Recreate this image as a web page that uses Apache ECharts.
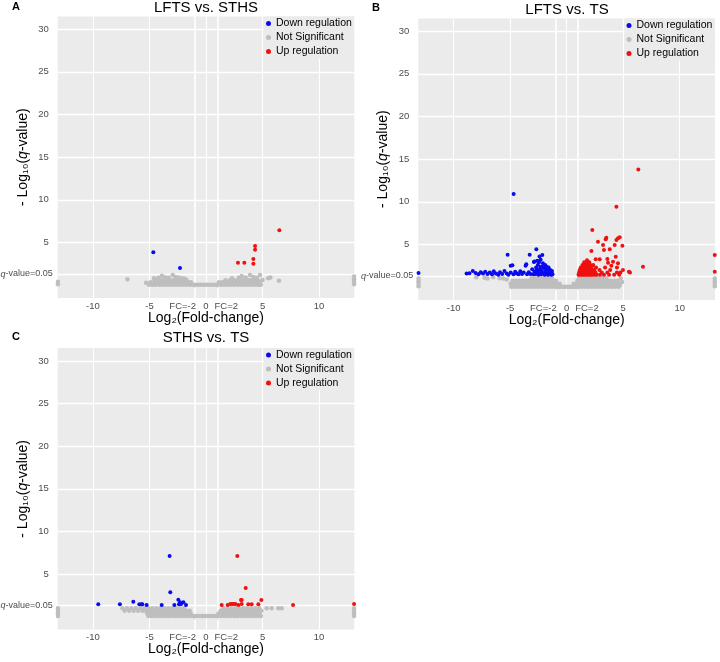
<!DOCTYPE html>
<html><head><meta charset="utf-8">
<script src="https://cdn.jsdelivr.net/npm/echarts@6/dist/echarts.min.js"></script>
<style>html,body{margin:0;padding:0;background:#fff}#c{width:720px;height:662px}</style>
</head><body><div id="c"></div>
<script>
// ---------- text ----------
const panelTitles = ['LFTS vs. STHS', 'LFTS vs. TS', 'STHS vs. TS'];
const panelLetters = ['A', 'B', 'C'];
const legendNames = ['Down regulation', 'Not Significant', 'Up regulation'];
const xBreaks = [-10, -5, -1, 0, 1, 5, 10];
const xTickLabels = ['-10', '-5', 'FC=-2', '0', 'FC=2', '5', '10'];
const yBreaks = [1.3, 5, 10, 15, 20, 25, 30];
const yTickLabels = ['q-value=0.05', '5', '10', '15', '20', '25', '30'];
const xRange = [-13.12, 13.12];
const yRange = [-1.5, 31.5];

// ---------- Panel A : LFTS vs. STHS ----------
const downA = [[-4.66, 3.84], [-2.30, 2.0]];
const upA = [[6.49, 6.42], [4.34, 4.58], [4.34, 4.15], [4.19, 3.06], [4.19, 2.51], [2.83, 2.63], [3.39, 2.63]];
const nsA_rows = [
  [0.05, [-5.05, -4.75, -4.47, -4.15, -3.86, -3.55, -3.27, -2.95, -2.66, -2.35, -2.04, -1.76, -1.45, -1.2, -0.95, -0.7, -0.46, -0.2, 0.05, 0.3, 0.56, 0.8, 1.0, 1.31, 1.6, 1.92, 2.2, 2.5, 2.81, 3.1, 3.42, 3.7, 4.0, 4.31, 4.6, 4.85]],
  [0.33, [-4.9, -4.62, -4.3, -4.02, -3.7, -3.42, -3.1, -2.8, -2.52, -2.2, -1.9, -1.62, -1.33, 1.15, 1.45, 1.76, 2.05, 2.36, 2.66, 2.95, 3.26, 3.55, 3.86, 4.15, 4.45, 4.75]],
  [0.58, [-4.45, -4.1, -3.82, -3.5, -3.2, -2.9, -2.62, -2.3, -2.0, -1.72, 1.72, 2.1, 2.5, 2.8, 3.12, 3.4, 3.72, 4.0, 4.3, 4.6]]
];
const nsA_extra = [[-4.6, 0.8], [-4.2, 0.85], [-3.9, 1.1], [-3.6, 0.9], [-3.3, 0.85], [-2.95, 1.18], [-2.7, 0.95], [-2.4, 0.9], [-2.1, 0.8], [-1.85, 0.75],
  [-5.3, 0.28], [-6.95, 0.68], [2.3, 0.8], [2.9, 0.85], [3.16, 1.07], [3.5, 0.9], [3.9, 1.18], [4.2, 0.95], [4.5, 0.85], [4.78, 1.18],
  [5.0, 0.6], [5.5, 0.8], [5.7, 0.9], [6.46, 0.52], [-13.1, 0.1], [-13.1, 0.4], [13.1, 0.1], [13.1, 0.4], [13.1, 0.7], [13.1, 1.0]];

// ---------- Panel B : LFTS vs. TS ----------
const downB = [[-13.1, 1.65],
  [-8.85, 1.6], [-8.6, 1.62], [-8.3, 1.9], [-8.05, 1.65], [-7.8, 1.5], [-7.6, 1.75], [-7.4, 1.6], [-7.2, 1.8], [-7.0, 1.55], [-6.8, 1.7],
  [-6.6, 1.5], [-6.45, 1.85], [-6.25, 1.6], [-6.05, 1.45], [-5.9, 1.75], [-5.7, 1.55], [-5.5, 1.9], [-5.3, 1.6], [-5.15, 1.45],
  [-4.95, 1.7], [-4.8, 2.55], [-4.95, 2.5], [-4.7, 1.5], [-4.55, 1.8], [-4.4, 1.6], [-4.25, 1.5], [-4.1, 1.85], [-3.95, 1.55], [-3.8, 1.7],
  [-3.63, 2.5], [-3.5, 1.5], [-3.35, 1.75], [-3.2, 1.55], [-5.22, 3.8], [-4.69, 10.9],
  [-3.05, 2.1], [-2.95, 1.5], [-2.9, 2.95], [-2.85, 1.8], [-2.75, 1.55], [-2.7, 2.3], [-2.68, 4.43], [-2.6, 1.7], [-2.55, 2.6], [-2.5, 1.45],
  [-2.45, 2.0], [-2.4, 3.6], [-2.35, 1.65], [-2.3, 2.4], [-2.25, 1.5], [-2.2, 1.9], [-2.15, 3.75], [-2.1, 2.8], [-2.05, 1.6], [-2.0, 2.2],
  [-1.95, 1.45], [-1.9, 1.8], [-1.85, 2.45], [-1.8, 1.55], [-1.75, 2.0], [-1.7, 1.7], [-1.65, 1.45], [-1.6, 2.1], [-1.55, 1.6], [-1.5, 1.85],
  [-1.45, 1.5], [-1.4, 1.7], [-1.35, 1.45], [-1.3, 1.6], [-1.25, 1.5], [-3.27, 3.8], [-3.57, 2.67], [-2.85, 3.0], [-2.6, 3.1], [-2.3, 3.2],
  [-2.45, 2.9], [-2.05, 2.4], [-1.9, 2.6], [-1.6, 2.3], [-1.45, 2.0], [-1.3, 1.9], [-2.65, 2.1], [-2.35, 2.15], [-1.75, 2.35]];
const upB_rows = [
  [1.45, [1.05, 1.2, 1.35, 1.5, 1.65, 1.8, 1.95, 2.1, 2.25, 2.45, 2.65, 2.95, 3.3, 3.75, 4.2, 4.65]],
  [1.72, [1.1, 1.25, 1.4, 1.55, 1.7, 1.85, 2.0, 2.15, 2.35, 2.55, 3.1, 3.6, 4.45]],
  [2.0, [1.15, 1.3, 1.45, 1.6, 1.75, 1.9, 2.05, 2.25, 2.45, 2.9, 3.85]],
  [2.3, [1.25, 1.4, 1.55, 1.7, 1.85, 2.0, 2.2, 2.6, 3.4]],
  [2.6, [1.4, 1.55, 1.7, 1.9, 2.1, 2.35]],
  [2.9, [1.55, 1.75, 2.0]],
  [3.15, [1.8]]
];
const upB_extra = [[6.34, 13.8], [4.4, 9.43], [2.27, 6.69], [2.77, 5.32], [3.51, 5.8], [3.45, 5.6], [3.22, 4.93], [4.25, 4.93], [4.4, 5.52],
  [4.54, 5.72], [4.69, 5.84], [4.93, 4.85], [3.3, 4.35], [2.19, 4.23], [3.81, 4.45], [2.92, 3.26], [4.34, 3.56], [2.57, 3.26], [3.66, 2.86],
  [4.1, 2.98], [4.54, 2.79], [6.75, 2.39], [5.51, 1.81], [5.6, 1.7], [4.98, 2.0], [13.1, 3.76], [13.1, 1.81], [3.6, 3.3], [3.95, 2.5],
  [4.45, 2.3], [4.75, 1.7]];
const nsB_rows = [
  [0.05, [-4.9, -4.6, -4.3, -4.0, -3.7, -3.4, -3.1, -2.8, -2.5, -2.2, -1.9, -1.6, -1.3, -1.0, -0.8, -0.6, -0.4, -0.2, 0.0, 0.2, 0.4, 0.6, 0.8, 1.0, 1.3, 1.6, 1.9, 2.2, 2.5, 2.8, 3.1, 3.4, 3.7, 4.0, 4.3, 4.6]],
  [0.4, [-4.95, -4.65, -4.35, -4.05, -3.75, -3.45, -3.15, -2.85, -2.55, -2.25, -1.95, -1.65, -1.35, -1.05, -0.82, -0.62, 0.62, 0.82, 1.05, 1.35, 1.65, 1.95, 2.25, 2.55, 2.85, 3.15, 3.45, 3.75, 4.05, 4.35, 4.65]],
  [0.75, [-4.8, -4.5, -4.2, -3.9, -3.6, -3.3, -3.0, -2.7, -2.4, -2.1, -1.8, -1.5, -1.2, -0.95, 0.95, 1.2, 1.5, 1.8, 2.1, 2.4, 2.7, 3.0, 3.3, 3.6, 3.9, 4.2, 4.5]],
  [1.05, [-3.1, -2.8, -2.5, -2.2, -1.9, -1.6, -1.3, 1.1, 1.4, 1.7, 2.0, 2.3, 2.6, 2.9, 3.2, 3.5]]
];
const nsB_extra = [[-7.26, 1.1], [-7.0, 1.0], [-6.5, 1.15], [-5.93, 1.05], [-5.6, 1.0], [-5.3, 0.9], [-8.0, 1.15], [4.7, 0.25], [4.9, 0.6], [4.8, 1.0],
  [-13.1, 0.1], [-13.1, 0.4], [-13.1, 0.7], [-13.1, 1.0], [13.1, 0.1], [13.1, 0.4], [13.1, 0.7], [13.1, 1.0]];

// ---------- Panel C : STHS vs. TS ----------
const downC = [[-9.53, 1.46], [-7.62, 1.46], [-6.43, 1.77], [-5.9, 1.46], [-5.7, 1.46], [-5.63, 1.46], [-5.25, 1.38], [-3.92, 1.38],
  [-3.22, 7.13], [-3.16, 2.89], [-2.45, 2.0], [-2.3, 1.7], [-2.0, 1.72], [-2.39, 1.46], [-2.8, 1.38], [-1.77, 1.38], [-2.2, 1.5]];
const upC = [[2.77, 7.13], [3.51, 3.38], [3.16, 1.97], [3.16, 1.5], [4.9, 1.97], [1.39, 1.38], [1.92, 1.38], [2.15, 1.5], [2.3, 1.5],
  [2.45, 1.5], [2.6, 1.5], [2.86, 1.38], [3.1, 1.97], [3.74, 1.46], [4.04, 1.46], [4.63, 1.46], [7.7, 1.38], [13.1, 1.5]];
const nsC_rows = [
  [0.1, [-5.1, -4.8, -4.5, -4.2, -3.9, -3.6, -3.3, -3.0, -2.7, -2.4, -2.1, -1.8, -1.5, -1.25, -1.0, -0.75, -0.5, -0.25, 0.0, 0.25, 0.5, 0.75, 1.0, 1.3, 1.6, 1.9, 2.2, 2.5, 2.8, 3.1, 3.4, 3.7, 4.0, 4.3, 4.6, 4.85]],
  [0.4, [-5.2, -4.95, -4.65, -4.35, -4.05, -3.75, -3.45, -3.15, -2.85, -2.55, -2.25, -1.95, -1.65, -1.35, 1.1, 1.45, 1.75, 2.05, 2.35, 2.65, 2.95, 3.25, 3.55, 3.85, 4.15, 4.45, 4.75]],
  [0.7, [-7.2, -6.8, -6.4, -6.0, -5.6, -5.3, -5.0, -4.7, -4.4, -4.1, -3.8, -3.5, -3.2, -2.9, -2.6, -2.3, -2.0, -1.7, -1.45, 1.3, 1.6, 1.9, 2.2, 2.5, 2.8, 3.1, 3.4, 3.7, 4.0, 4.3, 4.6, 4.9]],
  [1.0, [-7.4, -7.0, -6.6, -6.2, -5.8, -5.45, -5.1, -4.75, -4.4, -4.05, -3.7, -3.35, -3.0, -2.65, -2.3, -1.95, 1.55, 1.9, 2.25, 2.6, 2.95, 3.3, 3.65, 4.0, 4.35, 4.7, 5.37, 5.81, 6.4, 6.7]]
];
const nsC_extra = [[-13.1, 0.1], [-13.1, 0.4], [-13.1, 0.7], [-13.1, 1.0], [13.1, 0.1], [13.1, 0.4], [13.1, 0.7], [13.1, 1.0]];

// ---------- build ----------
function fromRows(rows, extra) {
  const out = [];
  rows.forEach(([y, xs]) => xs.forEach(x => out.push([x, y])));
  return out.concat(extra);
}
const panels = [
  { down: downA, ns: fromRows(nsA_rows, nsA_extra), up: upA },
  { down: downB, ns: fromRows(nsB_rows, nsB_extra), up: fromRows(upB_rows, upB_extra) },
  { down: downC, ns: fromRows(nsC_rows, nsC_extra), up: upC }
];

const FONT = '"Liberation Sans", Arial, Helvetica, sans-serif';
const grids = [
  { left: 57.7, top: 16.4, width: 296.6, height: 281.5 },
  { left: 418.3, top: 18.4, width: 296.7, height: 281.5 },
  { left: 57.7, top: 348.1, width: 296.6, height: 281.5 }
];
const titlePos = [{ x: 206, y: 0 }, { x: 567, y: 2 }, { x: 206, y: 330 }];
const letterPos = [{ x: 12, y: 1 }, { x: 372, y: 2 }, { x: 12, y: 331 }];
const legendPos = [{ x: 264, y: 16.4 }, { x: 624.5, y: 18.4 }, { x: 264, y: 348.1 }];
const colors = { 'Down regulation': '#0a0aef', 'Not Significant': '#bebebe', 'Up regulation': '#f01010' };

function xLabelFmt(v) {
  const t = xTickLabels[xBreaks.indexOf(v)];
  if (v < 0 && v > -5) return '{l|' + t + '}';
  if (v > 0 && v < 5) return '{r|' + t + '}';
  return t;
}
function yLabelFmt(v) {
  const t = yTickLabels[yBreaks.indexOf(v)];
  return t.charAt(0) === 'q' ? '{i|q}' + t.slice(1) : '{n|' + t + '}';
}

const option = {
  animation: false,
  backgroundColor: '#ffffff',
  textStyle: { fontFamily: FONT },
  title: [], legend: [], grid: [], xAxis: [], yAxis: [], series: []
};

panels.forEach((p, i) => {
  const g = grids[i];
  option.grid.push({ left: g.left, top: g.top, width: g.width, height: g.height, show: true,
    backgroundColor: '#EBEBEB', borderWidth: 0, containLabel: false, outerBoundsMode: 'none' });
  option.title.push({ text: panelTitles[i], left: titlePos[i].x, top: titlePos[i].y, textAlign: 'center', padding: 0,
    textStyle: { fontSize: 15, fontWeight: 'normal', color: '#000', fontFamily: FONT } });
  option.title.push({ text: panelLetters[i], left: letterPos[i].x, top: letterPos[i].y, padding: 0,
    textStyle: { fontSize: 11, fontWeight: 'bold', color: '#000', fontFamily: FONT } });
  option.legend.push({ data: legendNames, orient: 'vertical', left: legendPos[i].x, top: legendPos[i].y,
    icon: 'circle', itemWidth: 5, itemHeight: 5, itemGap: 0, padding: [0, 2, 0, 2],
    backgroundColor: '#EBEBEB', z: 20, zlevel: 0, selectedMode: false,
    textStyle: { fontSize: 10.5, color: '#000', lineHeight: 14, fontFamily: FONT } });
  option.xAxis.push({ type: 'value', gridIndex: i, min: xRange[0], max: xRange[1],
    axisLine: { show: false }, splitLine: { show: false },
    axisTick: { show: true, length: 3, customValues: xBreaks, lineStyle: { color: '#333', width: 1 } },
    axisLabel: { customValues: xBreaks, margin: 3, fontSize: 9.5, color: '#4D4D4D', fontFamily: FONT,
      formatter: xLabelFmt,
      rich: { l: { fontSize: 9.5, color: '#4D4D4D', padding: [0, 24, 0, 0] },
              r: { fontSize: 9.5, color: '#4D4D4D', padding: [0, 0, 0, 18] } } },
    name: 'Log\u2082(Fold-change)', nameLocation: 'middle', nameGap: 13, nameMoveOverlap: false,
    nameTextStyle: { fontSize: 14, color: '#000', fontFamily: FONT } });
  option.yAxis.push({ type: 'value', gridIndex: i, min: yRange[0], max: yRange[1],
    axisLine: { show: false }, splitLine: { show: false },
    axisTick: { show: true, length: 3, customValues: yBreaks, lineStyle: { color: '#333', width: 1 } },
    axisLabel: { customValues: yBreaks, margin: 5, fontSize: 9, color: '#4D4D4D', fontFamily: FONT,
      formatter: yLabelFmt,
      rich: { i: { fontStyle: 'italic', fontSize: 9, color: '#4D4D4D', fontFamily: FONT },
              n: { fontSize: 9.5, color: '#4D4D4D', fontFamily: FONT, padding: [0, 4, 0, 0] } } },
    name: '- Log\u2081\u2080({i|q}-value)', nameLocation: 'middle', nameGap: 28, nameRotate: 90, nameMoveOverlap: false,
    nameTextStyle: { fontSize: 14, color: '#000', fontFamily: FONT,
      rich: { i: { fontStyle: 'italic', fontSize: 14, color: '#000', fontFamily: FONT } } } });
  // white grid lines
  option.series.push({ type: 'scatter', xAxisIndex: i, yAxisIndex: i, data: [], silent: true, z: 1,
    markLine: { silent: true, z: 1, symbol: ['none', 'none'], label: { show: false }, animation: false,
      lineStyle: { color: '#ffffff', width: 1.2, type: 'solid' },
      data: xBreaks.map(v => ({ xAxis: v, lineStyle: { color: '#fff', type: 'solid', width: (v === -1 || v === 1) ? 1.6 : 1.1 } }))
        .concat(yBreaks.map(v => ({ yAxis: v, lineStyle: { color: '#fff', type: 'solid', width: 1.3 } }))) } });
  option.series.push({ name: 'Not Significant', type: 'scatter', xAxisIndex: i, yAxisIndex: i, data: p.ns,
    symbolSize: 4.5, itemStyle: { color: colors['Not Significant'], opacity: 1, borderWidth: 0 }, z: 2, silent: true });
  option.series.push({ name: 'Down regulation', type: 'scatter', xAxisIndex: i, yAxisIndex: i, data: p.down,
    symbolSize: 4, itemStyle: { color: colors['Down regulation'], opacity: 1, borderWidth: 0 }, z: 3, silent: true });
  option.series.push({ name: 'Up regulation', type: 'scatter', xAxisIndex: i, yAxisIndex: i, data: p.up,
    symbolSize: 4, itemStyle: { color: colors['Up regulation'], opacity: 1, borderWidth: 0 }, z: 3, silent: true });
});

const chart = echarts.init(document.getElementById('c'), null, { renderer: 'canvas' });
chart.setOption(option);
</script>
</body></html>
